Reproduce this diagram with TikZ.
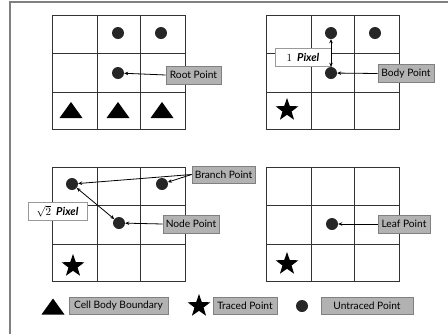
\documentclass[tikz,border=0pt]{standalone}
\usepackage{fontspec}
\setmainfont{Lato}
\usetikzlibrary{shapes.geometric,arrows.meta}
\begin{document}
\begin{tikzpicture}[x=1pt,y=-1pt,
  gridline/.style={line width=1pt,draw=black!80},
  dot/.style={circle,fill=black!85,minimum size=12pt,inner sep=0pt},
  starmark/.style={star,star points=5,star point ratio=2.5,fill=black,minimum size=24pt,inner sep=0pt},
  lbl/.style={draw=black!50,fill=black!30,line width=0.8pt,minimum height=18pt,inner sep=1pt,font=\fontsize{10.2}{11}\selectfont},
  pix/.style={draw=black!40,fill=white,line width=0.8pt,minimum height=18pt,inner sep=1pt,font=\fontsize{11}{12}\selectfont},
  arr/.style={-{Stealth[length=4pt,width=3.5pt]},line width=0.8pt},
  darr/.style={{Stealth[length=4pt,width=3.5pt]}-{Stealth[length=4pt,width=3.5pt]},line width=0.8pt},
  tri/.pic={\fill (-11.5,8) -- (11.5,8) -- (0,-8) -- cycle;}]
\useasboundingbox (0,0) rectangle (448,333);
\fill[white] (0,0) rectangle (448,333);
% outer frame (only left and top edges visible)
\draw[line width=1.8pt,draw=black!50] (10,340) -- (10,2) -- (460,2);
% grids
\foreach \gx/\gy in {52/15,266/15,52/167,266/167}{
  \draw[gridline] (\gx,\gy) rectangle ++(133,114);
  \draw[gridline] (\gx+45,\gy) -- ++(0,114);
  \draw[gridline] (\gx+88,\gy) -- ++(0,114);
  \draw[gridline] (\gx,\gy+38) -- ++(133,0);
  \draw[gridline] (\gx,\gy+77) -- ++(133,0);
}
% grid 1
\node[dot] (g1a) at (118,33) {};
\node[dot] (g1b) at (161,33) {};
\node[dot] (g1root) at (118,73) {};
\pic at (71,110) {tri};
\pic at (118,110) {tri};
\pic at (162,110) {tri};
\node[lbl,minimum width=55pt] (root) at (193.5,75) {Root Point};
\draw[arr] (root.west) -- (g1root);
% grid 2
\node[dot] (g2a) at (331,33) {};
\node[dot] (g2b) at (375,33) {};
\node[dot] (g2body) at (331,73) {};
\node[starmark] (s2) at (287,110) {};
\node[pix,minimum width=56pt] (onepix) at (303,57) {$1$\hspace{5pt}\textbf{\textit{Pixel}}};
\node[lbl,minimum width=56pt] (body) at (406,73.5) {Body Point};
\draw[arr] (body.west) -- (g2body);
\draw[darr] (g2a) -- (g2body);
% grid 3
\node[dot] (g3a) at (72,184) {};
\node[dot] (g3b) at (162,184) {};
\node[dot] (g3node) at (119,223) {};
\node[starmark] (s3) at (73,266) {};
\node[lbl,minimum width=63pt,minimum height=17pt] (branch) at (223.5,174.5) {Branch Point};
\node[lbl,minimum width=56pt] (nodept) at (191,224) {Node Point};
\node[pix,minimum width=59pt] (sqpix) at (57.5,211) {$\sqrt{2}$\hspace{5pt}\textbf{\textit{Pixel}}};
\draw[arr] (branch.west) -- (g3a);
\draw[arr] (branch.west) -- (g3b);
\draw[arr] (nodept.west) -- (g3node);
\draw[darr] (g3a) -- (g3node);
% grid 4
\node[dot] (g4leaf) at (332,224) {};
\node[starmark] (s4) at (287,264) {};
\node[lbl,minimum width=52pt] (leaf) at (404,224) {Leaf Point};
\draw[arr] (leaf.west) -- (g4leaf);
% legend
\pic at (53,306.5) {tri};
\node[lbl,minimum width=99pt,minimum height=17pt] (lcb) at (118.5,305.5) {Cell Body Boundary};
\node[starmark] (lstar) at (199,306) {};
\node[lbl,minimum width=64pt,minimum height=17pt] (ltr) at (245,305.5) {Traced Point};
\node[dot] (ldot) at (302,306) {};
\node[lbl,minimum width=92pt,minimum height=17pt] (lun) at (367,305.5) {Untraced Point};
\end{tikzpicture}
\end{document}
